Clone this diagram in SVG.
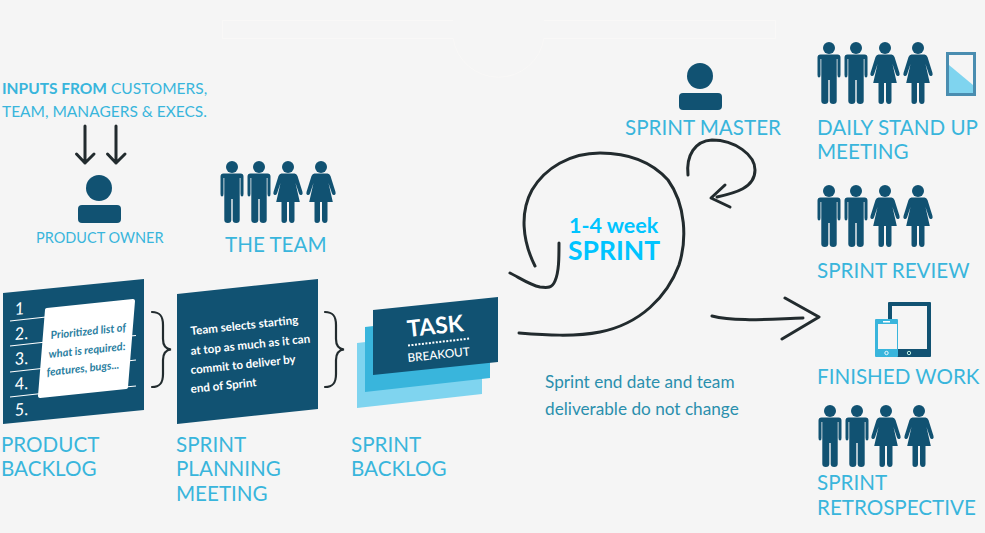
<svg xmlns="http://www.w3.org/2000/svg" width="985" height="533" viewBox="0 0 985 533">
<style>
text{font-family:"Lato","Open Sans","Liberation Sans",sans-serif}
.l{font-size:20.6px;fill:#39b5dc}
.s{font-size:15.5px;fill:#39b5dc}
.n{fill:#115272}
.c{fill:none;stroke:#222b2e;stroke-width:3;stroke-linecap:round;stroke-linejoin:round}
.w{fill:#fff;font-weight:700;font-size:11.6px}
.k{fill:#2a7ea0;font-weight:700;font-style:italic;font-size:11px}
.h{fill:#fff;font-size:17px;font-style:italic}
.m{stroke:#fff;stroke-width:1.2;fill:none}
</style>
<defs>
<g id="man" class="n"><circle cx="0" cy="6" r="6"/><path d="M-8.500 12.500H8.500Q11.500 12.500 11.500 15.500V33Q11.500 35.500 10 35.500T8.500 33V17H7.700V59Q7.700 62 4.200 62T0.700 59V38H-0.700V59Q-0.700 62 -4.200 62T-7.700 59V17H-8.500V33Q-8.500 35.500 -10 35.500T-11.500 33V15.500Q-11.500 12.500 -8.500 12.500Z"/></g>
<g id="woman" class="n"><circle cx="0" cy="6" r="6"/><path d="M-6.500 12.500H6.500Q8.500 12.500 9.500 15L14.500 31Q15.200 33.500 13.500 34T11 32.500L7.500 22L11.800 41H6.500V59Q6.500 62 3.900 62T1 59V41H-1V59Q-1 62 -3.900 62T-6.500 59V41H-11.800L-7.500 22L-11 32.500Q-11.800 34.500 -13.500 34T-14.500 31L-9.500 15Q-8.500 12.500 -6.500 12.500Z"/></g>
</defs>
<rect width="985" height="533" fill="#f5f5f5"/>
<g id="faint-banner" fill="none" stroke="#f9f8f7" stroke-width="1"><path d="M453 20.500H222.500V38.500H453M544 20.500H775.500V38.500H544"/><path d="M453 38A46 46 0 0 0 544 38"/></g>

<g id="connectors">
<path class="c" d="M85 126V163M76.500 154L85 163L94 154M116 126V163M107.500 154L116 163L125 154"/>
<path class="c" d="M519 333C545 335 575 337 600 332C640 324 667 297 679 265C687 240 686 205 668 180C650 160 625 153 600 153C570 153 545 168 532 190C520 212 522 240 535 266"/>
<path class="c" d="M510 273C520 278 530 285 540 287C548 288 552 288 555 281C559 272 559 258 559 243"/>
<path class="c" d="M688 175C686 155 695 141 712 140C735 140 755 155 755 170C755 188 735 193 717 197M725 185L711 198L730 207"/>
<path class="c" d="M712 316C735 322 770 319 803 318M785 298L819 317L782 339"/>
<path fill="none" stroke="#222b2e" stroke-width="2.200" stroke-linecap="round" d="M152 312C160 312 163 316 163 325V339C163 345 166 349 171 349.500C166 350 163 354 163 360V374C163 383 160 387 152 387"/>
<path fill="none" stroke="#222b2e" stroke-width="2.200" stroke-linecap="round" d="M325 312C333 312 336 316 336 325V339C336 345 339 349 344 349.500C339 350 336 354 336 360V374C336 383 333 387 325 387"/>
</g>

<g id="inputs"><text x="2" y="94" class="s" font-weight="700">INPUTS FROM</text><text x="111" y="94" class="s">CUSTOMERS,</text><text x="2" y="117" class="s">TEAM, MANAGERS &amp; EXECS.</text></g>

<g id="product-owner"><circle class="n" cx="99" cy="188" r="13"/><rect class="n" x="78" y="205" width="43" height="18" rx="4"/><text x="36" y="243" font-size="14.500" fill="#39b5dc">PRODUCT OWNER</text></g>

<g id="team"><use href="#man" x="232" y="161"/><use href="#man" x="259" y="161"/><use href="#woman" x="288" y="161"/><use href="#woman" x="321" y="161"/><text x="225" y="252" class="l">THE TEAM</text></g>

<g id="product-backlog">
<polygon class="n" points="3,293 144,279 144,410 3,424"/>
<g class="m"><path d="M10 321L46 317M10 346L46 342M10 372L46 368M10 397L46 393M130 336L136 335.500M127 361L136 360M125 387L136 386"/></g>
<text class="h" transform="translate(15,315) rotate(-5)">1</text><text class="h" transform="translate(15,340) rotate(-5)">2.</text><text class="h" transform="translate(15,365) rotate(-5)">3.</text><text class="h" transform="translate(15,390) rotate(-5)">4.</text><text class="h" transform="translate(15,416) rotate(-5)">5.</text>
<path d="M47 310L133 301L126 387L40 396Z" fill="#fff" stroke="#fff" stroke-width="4" stroke-linejoin="round"/>
<text class="k" transform="translate(51,339) rotate(-6)">Prioritized list of</text>
<text class="k" transform="translate(49,358) rotate(-6)">what is required:</text>
<text class="k" transform="translate(47,376) rotate(-6)">features, bugs...</text>
<text x="1" y="452" class="l">PRODUCT</text><text x="1" y="476" class="l">BACKLOG</text>
</g>

<g id="sprint-planning-meeting">
<polygon class="n" points="177,294 318,279 318,409 177,424"/>
<text class="w" transform="translate(191,335) rotate(-6)">Team selects starting</text>
<text class="w" transform="translate(191,355) rotate(-6)">at top as much as it can</text>
<text class="w" transform="translate(191,374) rotate(-6)">commit to deliver by</text>
<text class="w" transform="translate(191,393) rotate(-6)">end of Sprint</text>
<text x="176" y="452" class="l">SPRINT</text><text x="176" y="476" class="l">PLANNING</text><text x="176" y="501" class="l">MEETING</text>
</g>

<g id="sprint-backlog">
<polygon fill="#7fd4ef" points="357,343 482,329 482,394 357,408"/>
<polygon fill="#39b5dc" points="365,327 490,313 490,378 365,392"/>
<polygon class="n" points="373,310 498,297 498,362 373,375"/>
<text transform="translate(408,337) rotate(-6)" fill="#fff" font-size="23" font-weight="700">TASK</text>
<path d="M408 345.500L470 338.500" stroke="#fff" stroke-width="2" stroke-dasharray="2 1.500" fill="none"/>
<text transform="translate(408,362) rotate(-6)" fill="#fff" font-size="11.800" font-weight="500">BREAKOUT</text>
<text x="351" y="452" class="l">SPRINT</text><text x="351" y="476" class="l">BACKLOG</text>
</g>

<g id="sprint-loop"><text x="569" y="233" font-size="21.500" font-weight="700" fill="#00c4ff">1-4 week</text><text x="568" y="260" font-size="26.500" font-weight="700" fill="#00c4ff">SPRINT</text>
<text x="545" y="388" font-size="17.200" fill="#2a8fad">Sprint end date and team</text><text x="545" y="415" font-size="17.200" fill="#2a8fad">deliverable do not change</text></g>

<g id="sprint-master"><circle class="n" cx="700" cy="76" r="13"/><rect class="n" x="679" y="93" width="43" height="17" rx="4"/><text x="625" y="135" class="l">SPRINT MASTER</text></g>

<g id="daily-stand-up"><use href="#man" x="829" y="42"/><use href="#man" x="856" y="42"/><use href="#woman" x="885" y="42"/><use href="#woman" x="918" y="42"/>
<rect x="947.500" y="53.500" width="27" height="41" fill="#f5f5f5" stroke="#4a8db0" stroke-width="3"/><polygon fill="#7fd4ef" points="949,65 955,70 973,85 973,93 949,93"/>
<text x="817" y="135" class="l">DAILY STAND UP</text><text x="817" y="159" class="l">MEETING</text></g>

<g id="sprint-review"><use href="#man" x="829" y="185"/><use href="#man" x="856" y="185"/><use href="#woman" x="885" y="185"/><use href="#woman" x="918" y="185"/><text x="817" y="278" class="l">SPRINT REVIEW</text></g>

<g id="finished-work"><rect x="888" y="302" width="43" height="55" rx="1" class="n"/><rect x="892" y="306" width="35" height="43" fill="#f5f5f5"/><circle cx="909" cy="353" r="1.700" fill="none" stroke="#cfe" stroke-width="0.900"/>
<rect x="875" y="319" width="23" height="38" rx="1" fill="#39b5dc"/><rect x="878" y="324" width="19" height="25" fill="#f5f5f5"/><circle cx="886.500" cy="353" r="1.700" fill="none" stroke="#fff" stroke-width="0.900"/><rect x="883" y="321" width="7" height="1.500" fill="#fff"/>
<text x="817" y="384" class="l">FINISHED WORK</text></g>

<g id="sprint-retrospective"><use href="#man" x="830" y="405"/><use href="#man" x="857" y="405"/><use href="#woman" x="886" y="405"/><use href="#woman" x="919" y="405"/><text x="817" y="490" class="l">SPRINT</text><text x="817" y="515" class="l">RETROSPECTIVE</text></g>
</svg>
